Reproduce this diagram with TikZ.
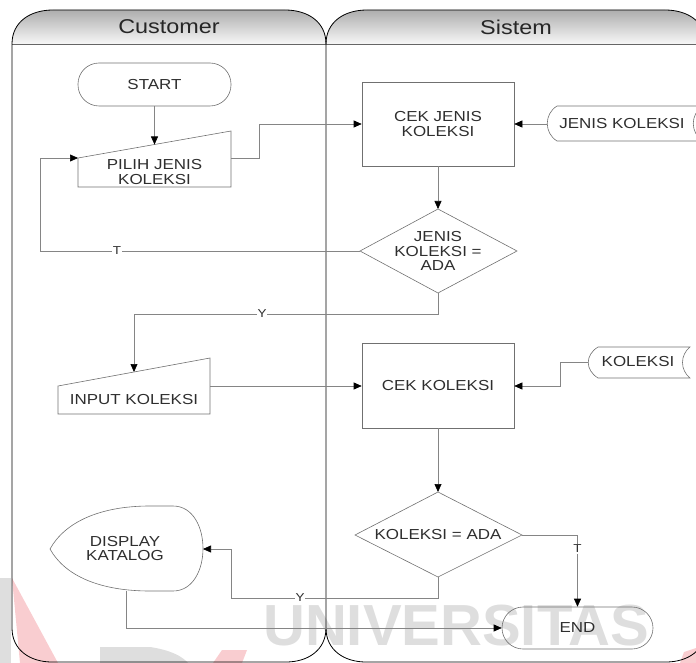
\documentclass[tikz,border=0pt]{standalone}
\usepackage{fontspec}
\setmainfont{Liberation Sans}
\newfontfamily\nf{Liberation Sans}[FakeStretch=1.17]
\usetikzlibrary{arrows.meta}
\definecolor{wmgray}{HTML}{DEDEDE}
\definecolor{wmpink}{HTML}{F9CDD0}
\definecolor{lnc}{HTML}{858585}
\definecolor{shc}{HTML}{707070}
\definecolor{txc}{HTML}{2E2E2E}
\tikzset{
  lane/.style={draw=black, line width=0.8pt},
  shp/.style={draw=shc, line width=0.6pt},
  conn/.style={draw=lnc, line width=0.6pt},
  arr/.style={conn, -{Triangle[length=8pt,width=7pt,color=black]}},
  txt/.style={font=\nf\fontsize{14.5}{14.2}\selectfont, text=txc, align=center, inner sep=0pt},
  term/.style={shp, rectangle, rounded corners=21pt, txt, inner sep=0pt},
  proc/.style={shp, rectangle, txt, minimum width=152pt, minimum height=84pt},
  lbl/.style={font=\nf\fontsize{11.5}{12}\selectfont, text=txc, fill=white, inner sep=1pt},
  hdr/.style={font=\nf\fontsize{20}{22}\selectfont, text=black!85}
}
\begin{document}
\begin{tikzpicture}[x=1pt,y=-1pt]
\useasboundingbox (0,0) rectangle (696,663);
\clip (0,0) rectangle (696,663);
% watermark
\fill[wmgray] (0,578) rectangle (11,663);
\fill[wmpink] (12,578) -- (20,663) -- (58,663) -- cycle;
\fill[wmgray] (100,647) -- (150,647) .. controls (170,650) and (182,656) .. (188,663) -- (100,663) -- cycle;
\fill[wmpink] (222,650) -- (247,650) -- (242,663) -- (213,663) -- cycle;
\fill[wmpink] (684,652) -- (696,648) -- (696,663) -- (680,663) -- cycle;
\node[font=\bfseries\fontsize{58}{58}\selectfont, text=wmgray, inner sep=0pt] (wm) at (456,626) {UNIVERSITAS};
% headers
\shade[top color=black!32, bottom color=black!3]
  (12,44) .. controls (12,22) and (30,10) .. (53,10) -- (285,10) .. controls (308,10) and (326,22) .. (326,44) -- cycle;
\shade[top color=black!32, bottom color=black!3]
  (326,44) .. controls (326,22) and (344,10) .. (367,10) -- (665,10) .. controls (688,10) and (706,22) .. (706,44) -- cycle;
\draw[lane] (12,44) .. controls (12,22) and (30,10) .. (53,10) -- (285,10) .. controls (308,10) and (326,22) .. (326,44);
\draw[lane] (326,44) .. controls (326,22) and (344,10) .. (367,10) -- (665,10) .. controls (688,10) and (706,22) .. (706,44);
\draw[draw=black!60, line width=0.8pt] (12,44) -- (706,44);
\draw[lane] (12,44) -- (12,628) .. controls (12,650) and (30,662) .. (52,662) -- (286,662) .. controls (308,662) and (326,650) .. (326,628) -- (326,44);
\draw[lane] (326,628) .. controls (326,650) and (344,662) .. (366,662) -- (666,662) .. controls (688,662) and (706,650) .. (706,628) -- (706,44);
\node[hdr] (hc) at (169,27) {Customer};
\node[hdr] (hs) at (516,27) {Sistem};
% nodes
\node[term, minimum width=153pt, minimum height=43pt] (start) at (154.5,84.5) {START};
\draw[shp] (78,158) -- (231,131) -- (231,187) -- (78,187) -- cycle;
\node[txt] (pilih) at (154.5,172) {PILIH JENIS\\KOLEKSI};
\coordinate (pilihtop) at (154.5,144.5);
\coordinate (pilihcorner) at (78,158);
\coordinate (pilihright) at (231,158);
\node[proc] (cekj) at (438,124) {CEK JENIS\\KOLEKSI};
\draw[shp] (557,106) -- (703,106) .. controls (690,114) and (690,133) .. (703,141) -- (557,141) .. controls (544,133) and (544,114) .. (557,106);
\node[txt] (jk) at (622,124) {JENIS KOLEKSI};
\coordinate (jkw) at (547,124);
\draw[shp] (438,209) -- (517,251) -- (438,293) -- (360,251) -- cycle;
\node[txt] (d1) at (438,251) {JENIS\\KOLEKSI =\\ADA};
\coordinate (d1t) at (438,209);
\coordinate (d1b) at (438,293);
\coordinate (d1l) at (360,251);
\draw[shp] (58,386) -- (210,358) -- (210,414) -- (58,414) -- cycle;
\node[txt] (inp) at (134,400) {INPUT KOLEKSI};
\coordinate (inptop) at (134,372);
\coordinate (inpright) at (210,386);
\node[proc, minimum height=85pt] (cekk) at (438,385.5) {CEK KOLEKSI};
\draw[shp] (598,347) -- (690,347) .. controls (680,355) and (680,370) .. (690,378) -- (598,378) .. controls (585,370) and (585,355) .. (598,347);
\node[txt] (kol) at (638,362) {KOLEKSI};
\coordinate (kolw) at (588,362.5);
\draw[shp] (438,492) -- (522,535) -- (438,577) -- (355,535) -- cycle;
\node[txt] (d2) at (438,535) {KOLEKSI = ADA};
\coordinate (d2t) at (438,492);
\coordinate (d2b) at (438,577);
\coordinate (d2r) at (522,535);
\draw[shp] (50,549) .. controls (65,522) and (100,506) .. (150,506) -- (173,506) .. controls (213,506) and (213,591) .. (173,591) -- (150,591) .. controls (100,591) and (65,576) .. (50,549) -- cycle;
\node[txt] (disp) at (125,548.5) {DISPLAY\\KATALOG};
\coordinate (dispr) at (203,549);
\coordinate (dispb) at (126,591);
\node[term, minimum width=151pt, minimum height=42pt] (end) at (577.5,628) {END};
% connectors
\draw[arr] (start.south) -- (pilihtop);
\draw[arr] (d1l) -- (40,251) -- (40,158) -- (pilihcorner);
\node[lbl] (lt1) at (117,250.5) {T};
\draw[arr] (pilihright) -- (259,158) -- (259,124) -- (cekj.west);
\draw[arr] (jkw) -- (cekj.east);
\draw[arr] (cekj.south) -- (d1t);
\draw[arr] (d1b) -- (438,314) -- (134,314) -- (inptop);
\node[lbl] (ly1) at (262,313.5) {Y};
\draw[arr] (inpright) -- (cekk.west |- inpright);
\draw[arr] (kolw) -- (560,362.5) -- (560,386) -- (cekk.east |- 0,386);
\draw[arr] (cekk.south) -- (d2t);
\draw[arr] (d2r) -- (577.5,535) -- (end.north);
\node[lbl] (lt2) at (577.5,549) {T};
\draw[arr] (d2b) -- (438,598) -- (231,598) -- (231,549) -- (dispr);
\node[lbl] (ly2) at (300,597.5) {Y};
\draw[arr] (dispb) -- (126,628) -- (end.west);
\end{tikzpicture}
\end{document}
